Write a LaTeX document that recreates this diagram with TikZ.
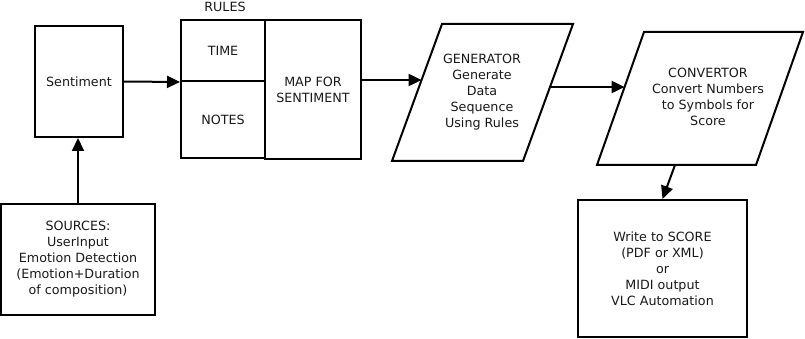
\documentclass[tikz,border=0pt]{standalone}
\usepackage{fontspec}
\setmainfont{DejaVu Sans}
\usetikzlibrary{arrows.meta}
\begin{document}
\begin{tikzpicture}[x=1pt,y=-1pt,
  every node/.style={font=\fontsize{12.7}{16}\selectfont, align=center, text=black!90},
  box/.style={draw, line width=2pt, inner sep=0pt},
  flow/.style={line width=2pt, -{Triangle[length=13pt,width=12pt]}},
  outline/.style={draw, line width=2pt, line join=miter}]
\useasboundingbox (0,0) rectangle (805,339);

% plain boxes
\node[box, minimum width=88pt, minimum height=111pt] (sent) at (79,81.5) {Sentiment};
\node[box, minimum width=154pt, minimum height=111pt] (src) at (78,259.5)
  {SOURCES:\\UserInput\\Emotion Detection\\(Emotion+Duration\\of composition)};
\node[box, minimum width=169pt, minimum height=137pt] (out) at (662.5,268.5)
  {Write to SCORE\\ (PDF or XML)\\or\\MIDI output\\VLC Automation};

% rule table
\node at (225,7) (rules) {RULES};
\node[box, minimum width=84pt, minimum height=61pt] (time) at (223,50.5) {TIME};
\node[box, minimum width=84pt, minimum height=77pt] (notes) at (223,119.5) {NOTES};
\node[box, minimum width=96pt, minimum height=139pt] (map) at (313,89.5) {MAP FOR\\SENTIMENT};

% parallelograms
\coordinate (g1) at (442,24); \coordinate (g2) at (573,24);
\coordinate (g3) at (523,161); \coordinate (g4) at (392,161);
\draw[outline] (g1) -- (g2) -- (g3) -- (g4) -- cycle;
\node (gen) at (482,92) {GENERATOR\\Generate\\Data\\Sequence\\Using Rules};

\coordinate (c1) at (644,32); \coordinate (c2) at (803,32);
\coordinate (c3) at (756,165); \coordinate (c4) at (597,165);
\draw[outline] (c1) -- (c2) -- (c3) -- (c4) -- cycle;
\node (conv) at (708,97) {CONVERTOR\\Convert Numbers\\to Symbols for\\ Score};

% connector end points on slanted edges
\coordinate (genin) at (421.6,80);
\coordinate (genout) at (550.5,87);
\coordinate (convin) at (624.6,87);
\coordinate (convout) at (675,165);

% connectors
\draw[flow] (src.north) -- (src.north |- sent.south);
\draw[flow] (sent.east) -- (time.south west);
\draw[flow] (map.east |- genin) -- (genin);
\draw[flow] (genout) -- (convin);
\draw[flow] (convout) -- (out.north);
\end{tikzpicture}
\end{document}
